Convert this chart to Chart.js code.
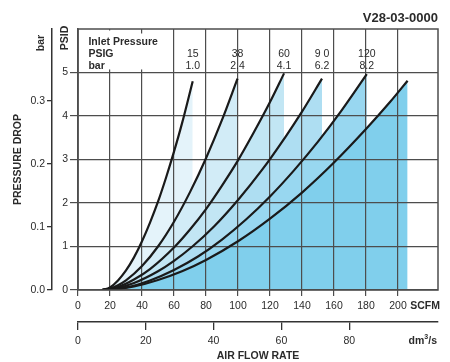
<!DOCTYPE html>
<html>
<head>
<meta charset="utf-8">
<title>V28-03-0000</title>
<script src="https://cdn.jsdelivr.net/npm/chart.js@4/dist/chart.umd.min.js"></script>
<style>
  html, body { margin: 0; padding: 0; background: #fff; }
</style>
</head>
<body>
<canvas id="flowChart" width="450" height="362"></canvas>
<script>
// inlet pressure labels (last curve has no label in the original)
const inletPsig = ['15', '38', '60', '9 0', '120', ''];
const inletBar = ['1.0', '2.4', '4.1', '6.2', '8.2', ''];

// flow (SCFM) / pressure drop (PSID)
const flow15 = [15, 20, 25, 30, 35, 40, 45, 50, 55, 60, 65, 71.7];
const drop15 = [0, 0.06, 0.22, 0.45, 0.75, 1.12, 1.55, 2.03, 2.58, 3.18, 3.83, 4.8];

const flow38 = [15, 20, 25, 30, 40, 50, 60, 70, 80, 90, 99.7];
const drop38 = [0, 0.03, 0.11, 0.22, 0.55, 1, 1.57, 2.25, 3.03, 3.91, 4.86];

const flow60 = [15, 25, 35, 45, 60.6, 70, 80, 90, 100, 110, 120, 128.8];
const drop60 = [0, 0.07, 0.24, 0.48, 1, 1.39, 1.86, 2.4, 2.98, 3.63, 4.32, 4.98];

const flow90 = [15, 25, 35, 50, 60, 71.5, 85, 100, 115, 130, 140, 152.5];
const drop90 = [0, 0.05, 0.16, 0.43, 0.67, 1, 1.46, 2.07, 2.76, 3.54, 4.1, 4.86];

const flow120 = [15, 30, 45, 60, 75, 90, 105, 120, 135, 150, 165, 180.5];
const drop120 = [0, 0.06, 0.22, 0.46, 0.77, 1.16, 1.62, 2.15, 2.75, 3.41, 4.14, 4.96];

const flow150 = [15, 25, 35, 50, 65, 80, 100, 120, 140, 160, 180, 195, 206];
const drop150 = [0, 0.02, 0.08, 0.23, 0.43, 0.69, 1.12, 1.64, 2.24, 2.93, 3.7, 4.32, 4.81];

const flows = [flow15, flow38, flow60, flow90, flow120, flow150];
const drops = [drop15, drop38, drop60, drop90, drop120, drop150];
const fillColors = ['#e4f3fa', '#d2ecf7', '#c2e6f4', '#aedef2', '#98d7f0', '#80cfec'];

// axis ticks
const scfmTicks = [0, 20, 40, 60, 80, 100, 120, 140, 160, 180, 200];
const dmTicks = [0, 20, 40, 60, 80];
const psidTicks = [0, 1, 2, 3, 4, 5];
const barTicks = [0, 0.1, 0.2, 0.3];

const SCFM_MAX = 225;
const PSID_MAX = 6;
const DM_PER_SCFM = 0.4719;
const BAR_PER_PSI = 0.0689476;

const FONT = "'Liberation Sans', Arial, Helvetica, sans-serif";
const ink = '#2b2b2b';
const gridColor = '#4d4d4d';

const datasets = flows.map((f, i) => ({
  data: f.map((x, j) => ({ x: x, y: drops[i][j] })),
  borderColor: '#1a1a1a',
  borderWidth: 2.2,
  backgroundColor: fillColors[i],
  fill: 'origin',
  pointRadius: 0,
  cubicInterpolationMode: 'monotone',
  order: flows.length - i
}));

const extras = {
  id: 'extras',
  afterDraw(chart) {
    const ctx = chart.ctx;
    const a = chart.chartArea;
    const xs = chart.scales.x;
    const ys = chart.scales.y;
    ctx.save();

    // frame
    ctx.strokeStyle = gridColor;
    ctx.lineWidth = 1.5;
    ctx.strokeRect(a.left, a.top, a.right - a.left, a.bottom - a.top);

    // clear the grid behind the header caption
    ctx.fillStyle = '#fff';
    ctx.fillRect(a.left + 1, a.top + 1.5, xs.getPixelForValue(40) - a.left - 2, ys.getPixelForValue(5.07) - a.top - 1.5);
    ctx.fillRect(xs.getPixelForValue(39), a.top + 4.5, xs.getPixelForValue(50) - xs.getPixelForValue(39), ys.getPixelForValue(5.07) - a.top - 4.5);

    ctx.fillStyle = ink;
    ctx.textBaseline = 'middle';

    // header caption
    ctx.textAlign = 'left';
    ctx.font = 'bold 10.5px ' + FONT;
    const capX = xs.getPixelForValue(6.5);
    ctx.fillText('Inlet Pressure', capX, ys.getPixelForValue(5.69));
    ctx.fillText('PSIG', capX, ys.getPixelForValue(5.43));
    ctx.fillText('bar', capX, ys.getPixelForValue(5.14));

    // pressure labels above each curve
    ctx.textAlign = 'center';
    ctx.font = '10.5px ' + FONT;
    flows.forEach((f, i) => {
      const px = xs.getPixelForValue(f[f.length - 1]);
      ctx.fillText(inletPsig[i], px, ys.getPixelForValue(5.43));
      ctx.fillText(inletBar[i], px, ys.getPixelForValue(5.14));
    });

    // model number
    ctx.textAlign = 'right';
    ctx.font = 'bold 13px ' + FONT;
    ctx.fillText('V28-03-0000', a.right, 18.5);

    // unit labels on the axes
    ctx.font = 'bold 10.5px ' + FONT;
    ctx.fillText('SCFM', a.right + 2, 306);
    const dmY = 341;
    const sW = ctx.measureText('/s').width;
    const dmRight = a.right - 1;
    ctx.fillText('/s', dmRight, dmY);
    ctx.font = 'bold 7px ' + FONT;
    const supW = ctx.measureText('3').width;
    ctx.fillText('3', dmRight - sW, dmY - 4);
    ctx.font = 'bold 10.5px ' + FONT;
    ctx.fillText('dm', dmRight - sW - supW, dmY);

    // rotated unit labels
    ctx.textAlign = 'center';
    ctx.save();
    ctx.translate(65, 38);
    ctx.rotate(-Math.PI / 2);
    ctx.fillText('PSID', 0, 0);
    ctx.restore();
    ctx.save();
    ctx.translate(41, 43);
    ctx.rotate(-Math.PI / 2);
    ctx.fillText('bar', 0, 0);
    ctx.restore();

    ctx.restore();
  }
};

const tickFont = { family: FONT, size: 10.5 };
const boldFont = { family: FONT, size: 10.5, weight: 'bold' };

new Chart(document.getElementById('flowChart').getContext('2d'), {
  type: 'line',
  data: { datasets: datasets },
  options: {
    responsive: false,
    animation: false,
    devicePixelRatio: 1,
    layout: { padding: { top: 29, right: 12, left: 0, bottom: 0 } },
    plugins: {
      legend: { display: false },
      tooltip: { enabled: false },
      // fills first, so the grid and the curves sit on top of them
      filler: { propagate: false, drawTime: 'beforeDraw' }
    },
    scales: {
      x: {
        type: 'linear',
        position: 'bottom',
        weight: 0,
        min: 0,
        max: SCFM_MAX,
        afterBuildTicks: s => { s.ticks = scfmTicks.map(v => ({ value: v })); },
        afterFit: s => { s.height = 32; },
        grid: { color: gridColor, lineWidth: 1.2, tickLength: 6, tickColor: gridColor },
        border: { display: false },
        ticks: { font: tickFont, color: ink, padding: 4, maxRotation: 0, autoSkip: false }
      },
      dm: {
        type: 'linear',
        position: 'bottom',
        weight: 1,
        min: 0,
        max: SCFM_MAX * DM_PER_SCFM,
        afterBuildTicks: s => { s.ticks = dmTicks.map(v => ({ value: v })); },
        afterFit: s => { s.height = 40; },
        grid: { drawOnChartArea: false, color: '#333', lineWidth: 1.3, tickLength: 8 },
        border: { display: true, color: '#333', width: 1.5 },
        ticks: { font: tickFont, color: ink, padding: 5, maxRotation: 0, autoSkip: false },
        title: { display: true, text: 'AIR FLOW RATE', font: boldFont, color: ink, padding: 0 }
      },
      y: {
        type: 'linear',
        position: 'left',
        weight: 0,
        min: 0,
        max: PSID_MAX,
        afterBuildTicks: s => { s.ticks = psidTicks.map(v => ({ value: v })); },
        afterFit: s => { s.width = 26; },
        grid: { color: gridColor, lineWidth: 1.2, tickLength: 8, tickColor: gridColor },
        border: { display: true, color: gridColor, width: 1.5 },
        ticks: { font: tickFont, color: ink, padding: 2 }
      },
      bar: {
        type: 'linear',
        position: 'left',
        weight: 1,
        min: 0,
        max: PSID_MAX * BAR_PER_PSI,
        afterBuildTicks: s => { s.ticks = barTicks.map(v => ({ value: v })); },
        afterFit: s => { s.width = 52; },
        grid: { drawOnChartArea: false, color: '#333', lineWidth: 1.3, tickLength: 5 },
        border: { display: true, color: '#333', width: 1.5 },
        ticks: { font: tickFont, color: ink, padding: 2, callback: v => v.toFixed(1) },
        title: { display: true, text: 'PRESSURE DROP', font: boldFont, color: ink, padding: { top: 12, bottom: 0 } }
      }
    }
  },
  plugins: [extras]
});
</script>
</body>
</html>
